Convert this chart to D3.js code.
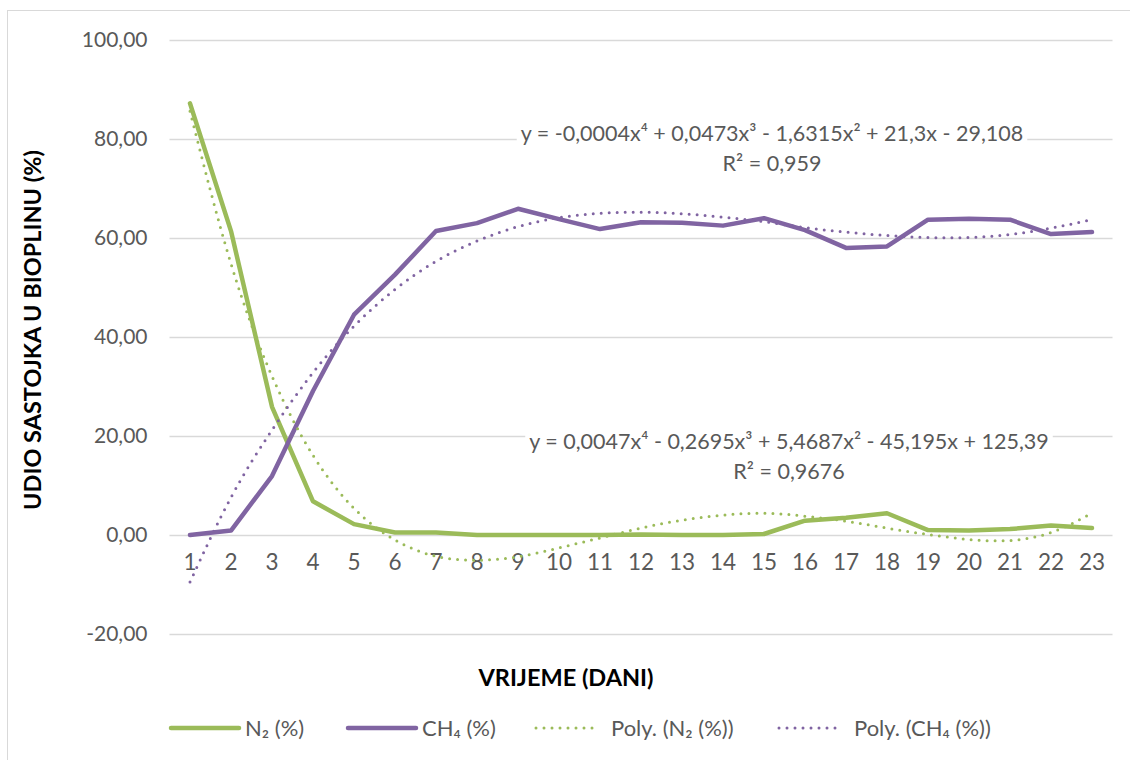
<!DOCTYPE html>
<html>
<head>
<meta charset="utf-8">
<script src="https://cdn.jsdelivr.net/npm/d3@7"></script>
<style>
  body { margin: 0; background: #fff; }
  text { font-family: Lato, "Open Sans", sans-serif; }
</style>
</head>
<body>
<svg id="vis" width="1130" height="760"></svg>
<script>
// days on the x axis
const days = d3.range(1, 24).map(String);

// measured values (%)
const n2 = [87.2, 61.4, 25.9, 6.8, 2.2, 0.5, 0.5, 0, 0, 0, 0, 0.1, 0, 0, 0.2, 2.9, 3.5, 4.4, 1.0, 0.9, 1.2, 1.9, 1.4];
const ch4 = [0, 0.9, 11.9, 29.1, 44.5, 52.6, 61.4, 63.0, 65.9, 63.8, 61.8, 63.2, 63.1, 62.5, 64.0, 61.6, 58.0, 58.3, 63.7, 63.9, 63.7, 60.8, 61.2];

// polynomial trendlines at each day
const n2Poly = [85.6, 54.8, 32.1, 16.1, 5.4, -1.0, -4.3, -5.1, -4.4, -2.6, -0.6, 1.4, 3.0, 4.0, 4.4, 3.8, 2.8, 1.4, 0.1, -0.9, -1.1, 0.5, 4.4];
const ch4Poly = [-9.5, 7.6, 21.2, 32.8, 42.2, 49.6, 55.3, 59.4, 62.3, 64.1, 65.0, 65.2, 64.9, 64.2, 63.3, 62.1, 61.2, 60.5, 60.1, 60.1, 60.7, 62.0, 63.7];

const yTicks = [-20, 0, 20, 40, 60, 80, 100];

const eqCH4 = ["y = -0,0004x\u2074 + 0,0473x\u00b3 - 1,6315x\u00b2 + 21,3x - 29,108", "R\u00b2 = 0,959"];
const eqN2 = ["y = 0,0047x\u2074 - 0,2695x\u00b3 + 5,4687x\u00b2 - 45,195x + 125,39", "R\u00b2 = 0,9676"];

const green = "#9bbb59";
const purple = "#8064a2";
const textColor = "#595959";

const svg = d3.select("svg#vis");

// chart border
svg.append("rect")
  .attr("x", 7.5).attr("y", 10.5)
  .attr("width", 1140).attr("height", 760)
  .attr("fill", "none")
  .attr("stroke", "#d9d9d9");

const left = 169.5, right = 1112.5;

const x = d3.scaleBand()
  .domain(days)
  .range([left, right]);

const y = d3.scaleLinear()
  .domain([-20, 100])
  .range([634, 40]);

// gridlines
svg.append("g")
  .selectAll("line")
  .data(yTicks)
  .join("line")
  .attr("x1", left).attr("x2", right)
  .attr("y1", d => Math.round(y(d)) + 0.5)
  .attr("y2", d => Math.round(y(d)) + 0.5)
  .attr("stroke", "#d9d9d9")
  .attr("stroke-width", 1.3);

// y axis labels
const yAxis = d3.axisLeft(y)
  .tickValues(yTicks)
  .tickSize(0)
  .tickPadding(22)
  .tickFormat(d => d3.format(".2f")(d).replace(".", ",").replace("\u2212", "-"));

const yg = svg.append("g")
  .attr("transform", "translate(" + left + ",0)")
  .call(yAxis);
yg.select(".domain").remove();
yg.selectAll("text")
  .attr("fill", textColor)
  .style("font-size", "21px");

// x axis labels (sit below the zero line)
const xAxis = d3.axisBottom(x)
  .tickSize(0)
  .tickPadding(19);

const xg = svg.append("g")
  .attr("transform", "translate(0," + y(0) + ")")
  .call(xAxis);
xg.select(".domain").remove();
xg.selectAll("text")
  .attr("fill", textColor)
  .style("font-size", "22.5px");

// axis titles
svg.append("text")
  .attr("transform", "translate(41,330) rotate(-90)")
  .attr("text-anchor", "middle")
  .style("font-size", "23.5px")
  .style("font-weight", "bold")
  .attr("fill", "#000")
  .text("UDIO SASTOJKA U BIOPLINU (%)");

svg.append("text")
  .attr("x", 566)
  .attr("y", 686)
  .attr("text-anchor", "middle")
  .style("font-size", "23.5px")
  .style("font-weight", "bold")
  .attr("fill", "#000")
  .text("VRIJEME (DANI)");

const cx = d => x(d) + x.bandwidth() / 2;

const line = d3.line()
  .x((v, i) => cx(days[i]))
  .y(v => y(v));

const smooth = d3.line()
  .x((v, i) => cx(days[i]))
  .y(v => y(v))
  .curve(d3.curveNatural);

const plot = svg.append("g");

plot.append("path")
  .datum(n2)
  .attr("d", line)
  .attr("fill", "none")
  .attr("stroke", green)
  .attr("stroke-width", 4.5)
  .attr("stroke-linejoin", "round")
  .attr("stroke-linecap", "round");

plot.append("path")
  .datum(ch4)
  .attr("d", line)
  .attr("fill", "none")
  .attr("stroke", purple)
  .attr("stroke-width", 4.5)
  .attr("stroke-linejoin", "round")
  .attr("stroke-linecap", "round");

plot.append("path")
  .datum(n2Poly)
  .attr("d", smooth)
  .attr("fill", "none")
  .attr("stroke", green)
  .attr("stroke-width", 3)
  .attr("stroke-dasharray", "0 8")
  .attr("stroke-linecap", "round");

plot.append("path")
  .datum(ch4Poly)
  .attr("d", smooth)
  .attr("fill", "none")
  .attr("stroke", purple)
  .attr("stroke-width", 3)
  .attr("stroke-dasharray", "0 8")
  .attr("stroke-linecap", "round");

// trendline equation labels with white backing
function equation(lines, cxPos, y0) {
  const g = svg.append("g");
  const bg = g.append("rect").attr("fill", "#fff");
  const t = g.append("text")
    .attr("text-anchor", "middle")
    .attr("fill", textColor)
    .style("font-size", "21.5px");
  lines.forEach((s, i) => {
    t.append("tspan")
      .attr("x", cxPos)
      .attr("y", y0 + i * 30)
      .text(s);
  });
  const b = t.node().getBBox();
  bg.attr("x", b.x - 4).attr("y", b.y - 1)
    .attr("width", b.width + 8).attr("height", b.height + 2);
}

equation(eqCH4, 772, 141);
equation(eqN2, 789, 449);

// legend
const legendItems = [
  { label: "N\u2082 (%)", color: green, dotted: false, x: 169 },
  { label: "CH\u2084 (%)", color: purple, dotted: false, x: 346 },
  { label: "Poly. (N\u2082 (%))", color: green, dotted: true, x: 534 },
  { label: "Poly. (CH\u2084 (%))", color: purple, dotted: true, x: 777 }
];

const legend = svg.append("g")
  .selectAll("g")
  .data(legendItems)
  .join("g")
  .attr("transform", d => "translate(" + d.x + ",728)");

legend.append("line")
  .attr("x1", 2).attr("x2", d => d.dotted ? 66 : 70)
  .attr("y1", 0).attr("y2", 0)
  .attr("stroke", d => d.color)
  .attr("stroke-width", d => d.dotted ? 3 : 4.5)
  .attr("stroke-dasharray", d => d.dotted ? "0 8" : null)
  .attr("stroke-linecap", "round");

legend.append("text")
  .attr("x", d => d.dotted ? 77 : 76)
  .attr("y", 8)
  .attr("fill", textColor)
  .style("font-size", "22px")
  .text(d => d.label);
</script>
</body>
</html>
